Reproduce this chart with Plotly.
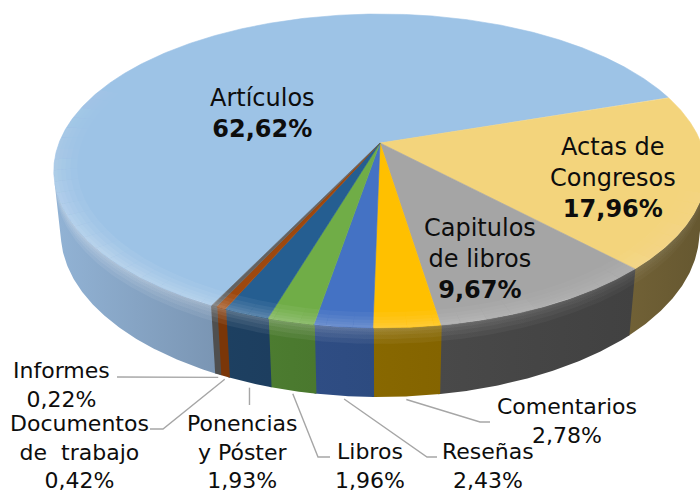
import numpy as np
import plotly.graph_objects as go

# ---------------- data ----------------
categories = ["Artículos", "Actas de Congresos", "Capitulos de libros", "Comentarios",
              "Reseñas", "Libros", "Ponencias y Póster", "Documentos de trabajo", "Informes"]
shares = [62.62, 17.96, 9.67, 2.78, 2.43, 1.96, 1.93, 0.42, 0.22]
label_names = ["Artículos", "Actas de<br>Congresos", "Capitulos<br>de libros", "Comentarios",
               "Reseñas", "Libros", "Ponencias<br>y Póster", "Documentos<br>de\u00a0 trabajo",
               "Informes"]

# ---------------- style ----------------
top_colors = ["#9DC3E6", "#F3D47C", "#A5A5A5", "#FFC000", "#4472C4",
              "#70AD47", "#255E91", "#9E480E", "#636363"]
wall_colors = ["#86A4C4", "#6B5C33", "#454545", "#866600", "#2E4C82",
               "#4B7A2F", "#1D3F60", "#7A3608", "#4F4F4F"]
inside_label = [True, True, True, False, False, False, False, False, False]
label_xy = [(262, 113), (613, 178), (480, 259), (567, 421), (488, 466),
            (370, 466), (242, 452), (79, 452), (61, 385)]
# leader line points after the anchor on the pie edge (outside labels only)
leader_tail = {3: [(480, 422), (490, 422)],
               4: [(427, 457), (437, 457)],
               5: [(318, 457), (330, 457)],
               6: "vertical",
               7: [(163, 429), (150, 429)],
               8: [(117, 377)]}
FONT = "DejaVu Sans"
TEXT_COLOR = "#0d0d0d"
LEADER_COLOR = "#A6A6A6"

# ---------------- 3D pie projection ----------------
CX, CY, S = 380.0, 143.0, 321.0       # apex position and scale (px)
SIN_E = 0.4734                        # viewing elevation
COS_E = np.sqrt(1 - SIN_E ** 2)
K = COS_E / 0.178                     # camera distance (perspective)
H = 0.22                              # pie thickness
START = 206.1                         # first slice angle (deg, clockwise from back)


def project(theta, r=1.0, z=0.0):
    th = np.radians(np.asarray(theta, dtype=float))
    X = r * np.sin(th)
    Y = r * np.cos(th)
    v = Y * SIN_E + z * COS_E
    w = Y * COS_E - z * SIN_E
    d = 1 + w / K
    return CX + S * X / d, CY - S * v / d


def shade(hexcol, f):
    h = hexcol.lstrip("#")
    rgb = [int(h[i:i + 2], 16) for i in (0, 2, 4)]
    rgb = [int(max(0, min(255, round(c * f)))) for c in rgb]
    return "rgb({},{},{})".format(*rgb)


def arc(a, b, step=0.4):
    n = max(2, int(abs(b - a) / step) + 2)
    return np.linspace(a, b, n)


def band_trace(xs, ys, **fill):
    return go.Scatter(x=xs, y=ys, mode="lines", fill="toself", line=dict(width=0),
                      hoverinfo="skip", **fill)


total = sum(shares)
bounds = START + 360.0 * np.concatenate([[0.0], np.cumsum(shares)]) / total
TH_V = np.degrees(np.arccos(-1.0 / (K * COS_E)))   # visible side wall limits

fig = go.Figure()

# side walls
for i in range(len(shares)):
    a0, a1 = bounds[i], bounds[i + 1]
    for k in (0.0, 360.0):
        lo = max(a0, TH_V + k)
        hi = min(a1, 360.0 - TH_V + k)
        if hi <= lo:
            continue
        th = arc(lo - 0.15, hi + 0.15)
        xt, yt = project(th, 1.0, 0.0)
        xb, yb = project(th[::-1], 1.0, -H)
        xs = np.concatenate([xt, xb, xt[:1]])
        ys = np.concatenate([yt, yb, yt[:1]])
        mid = 0.5 * (lo + hi)
        c_left = shade(wall_colors[i], 1 + 0.0035 * (hi - mid))
        c_right = shade(wall_colors[i], 1 + 0.0035 * (lo - mid))
        fig.add_trace(band_trace(
            xs, ys,
            fillgradient=dict(type="horizontal", colorscale=[[0, c_left], [1, c_right]])))

# soft highlight at the top of the wall (nested bands build a gradient)
for zb in (-0.05, -0.035, -0.022, -0.012, -0.005):
    th = arc(TH_V, 360 - TH_V)
    xt, yt = project(th, 1.0, 0.0)
    xb, yb = project(th[::-1], 1.0, zb)
    fig.add_trace(band_trace(
        np.concatenate([xt, xb, xt[:1]]), np.concatenate([yt, yb, yt[:1]]),
        fillgradient=dict(type="horizontal",
                          colorscale=[[0, "rgba(255,255,255,0.08)"],
                                      [0.5, "rgba(255,255,255,0.05)"],
                                      [1, "rgba(255,255,255,0.02)"]])))

# top faces
for i in range(len(shares)):
    th = arc(bounds[i], bounds[i + 1], 0.2)
    xr, yr = project(th, 1.0, 0.0)
    xs = np.concatenate([[CX], xr, [CX]])
    ys = np.concatenate([[CY], yr, [CY]])
    fig.add_trace(go.Scatter(
        x=xs, y=ys, mode="lines", fill="toself", fillcolor=top_colors[i],
        line=dict(color=top_colors[i], width=0.6), hoverinfo="skip"))

# bevel highlight along the rim of the top face
STEP = 4.0
for a in np.arange(100.0, 300.0, STEP):
    amp = float(np.interp(a + STEP / 2, [100, 130, 180, 230, 270, 300],
                          [0.0, 0.3, 0.7, 1.0, 0.45, 0.0]))
    if amp <= 0.01:
        continue
    th = arc(a, a + STEP, 0.5)
    xo, yo = project(th, 1.0, 0.0)
    for r0 in (0.93, 0.95, 0.965, 0.978, 0.989):
        xi, yi = project(th[::-1], r0, 0.0)
        fig.add_trace(band_trace(
            np.concatenate([xo, xi, xo[:1]]), np.concatenate([yo, yi, yo[:1]]),
            fillcolor=f"rgba(255,255,255,{0.065 * amp:.3f})"))

# leader lines
for i, tail in leader_tail.items():
    mid = 0.5 * (bounds[i] + bounds[i + 1])
    ax, ay = project(mid, 1.0, -H)
    ay = float(ay) + 3
    ax = float(ax)
    if tail == "vertical":
        pts = [(ax, ay + 2), (ax, 405)]
    else:
        pts = [(ax, ay)] + tail
    fig.add_trace(go.Scatter(
        x=[p[0] for p in pts], y=[p[1] for p in pts], mode="lines",
        line=dict(color=LEADER_COLOR, width=1.4), hoverinfo="skip"))

# labels
for i, v in enumerate(shares):
    pct = f"{v:.2f}".replace(".", ",") + "%"
    if inside_label[i]:
        text = f"{label_names[i]}<br><b>{pct}</b>"
        size = 24
    else:
        text = f"{label_names[i]}<br>{pct}"
        size = 22
    x, y = label_xy[i]
    fig.add_annotation(x=x, y=y, xref="x", yref="y", text=text, showarrow=False,
                       align="center", xanchor="center", yanchor="middle",
                       font=dict(family=FONT, size=size, color=TEXT_COLOR))

fig.update_layout(
    width=700, height=494, margin=dict(l=0, r=0, t=0, b=0),
    paper_bgcolor="white", plot_bgcolor="white", showlegend=False,
    xaxis=dict(range=[0, 700], visible=False, fixedrange=True),
    yaxis=dict(range=[494, 0], visible=False, fixedrange=True),
)

fig.write_html("out.html")
